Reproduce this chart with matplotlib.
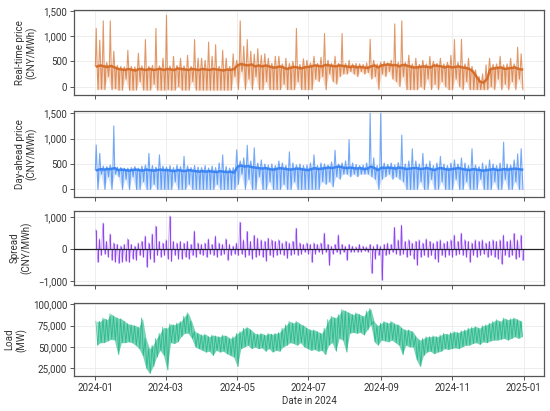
import numpy as np
import pandas as pd
import matplotlib
matplotlib.use("Agg")
import matplotlib.pyplot as plt
import matplotlib.dates as mdates
from matplotlib.ticker import FuncFormatter, FixedLocator

plt.rcParams['font.family'] = ['Roboto', 'DejaVu Sans']

# ---- data: 3-day periods through 2024 ----
period_start = "2024-01-01"
n_periods = 122

rt_hi = [1150, 920, 1300, 480, 1300, 700, 420, 400, 390, 720,
         400, 390, 660, 410, 930, 400, 420, 1150, 410, 560,
         1410, 410, 600, 420, 560, 410, 620, 400, 930, 560,
         560, 520, 880, 600, 830, 400, 720, 560, 400, 650,
         520, 1300, 800, 930, 700, 640, 750, 620, 650, 560,
         460, 600, 600, 450, 560, 460, 500, 1150, 440, 550,
         520, 470, 600, 460, 580, 1050, 520, 460, 600, 460,
         1050, 460, 520, 450, 460, 450, 440, 470, 935, 520,
         450, 480, 500, 470, 520, 1240, 480, 1300, 480, 620,
         450, 560, 440, 520, 450, 600, 500, 460, 560, 450,
         480, 620, 930, 480, 935, 450, 560, 400, 330, 200,
         250, 430, 560, 440, 450, 600, 430, 450, 560, 450,
         780, 650]
rt_mid = [400, 420, 400, 390, 410, 380,
          350, 340, 330, 350, 330, 320, 350, 340, 330, 350, 330, 340, 350, 330,
          350, 340, 330, 360, 350, 340, 330, 350, 340, 330, 350,
          340, 330, 350, 340, 330, 320, 340, 330, 350, 420,
          450, 430, 420, 440, 400, 420, 400, 420, 400, 380,
          380, 400, 380, 350, 370, 390, 380, 360, 380, 390,
          400, 420, 410, 400, 430, 420, 410, 400, 420, 410,
          400, 390, 400, 380, 390, 380, 370, 400, 420, 380,
          420, 430, 440, 420, 430, 400, 430, 420, 400, 380,
          380, 390, 400, 390, 380, 420, 410, 400, 380, 400,
          380, 390, 400, 380, 370, 350, 300, 200, 100, 80,
          150, 350, 360, 370, 380, 350, 360, 370, 380, 350, 340]
rt_lo = [-60, -50, -60, 200, -60, -40,
         -70, -70, 150, -70, -70, -70, 100, -70, -70, -70, 50, -70, -70, -70,
         -60, -70, -70, 0, -70, -70, -70, 100, -70, -70, -70,
         -70, -70, -70, -70, -70, -70, -70, -70, 200, -60,
         300, -60, 150, -60, 200, -60, -60, 100, -60, -60,
         -60, -60, 50, -60, -60, -60, 100, -60, -60, -60,
         -60, 150, 100, 200, -60, 250, 100, 50, 200, 250,
         250, 300, 250, 200, 300, 250, 280, 150, 200, -60,
         250, 200, 300, 150, 100, 0, 200, -60, -60, -60,
         -60, 0, -60, 150, -60, 50, -60, 100, 0, -60,
         -60, 150, 0, -60, 100, -60, -60, -60, -60, -60,
         -60, 0, -60, 150, -60, 50, -60, 100, -60, 150, -60]

da_hi = [875, 710, 460, 450, 480, 1250, 440, 430, 420, 420,
         430, 450, 420, 460, 480, 710, 470, 440, 680, 460,
         440, 470, 430, 480, 450, 650, 460, 430, 470, 440,
         430, 470, 420, 460, 430, 520, 680, 450, 420, 430,
         780, 560, 620, 870, 560, 820, 520, 580, 500, 480,
         500, 470, 560, 520, 470, 740, 520, 480, 500, 470,
         480, 520, 680, 470, 520, 500, 480, 540, 770, 500,
         520, 560, 980, 520, 490, 470, 480, 520, 1500, 620,
         470, 1500, 520, 490, 520, 480, 530, 1070, 500, 560,
         800, 560, 500, 710, 500, 560, 470, 520, 650, 500,
         470, 520, 580, 500, 620, 520, 470, 800, 480, 450,
         520, 470, 580, 500, 470, 520, 930, 500, 480, 580,
         700, 800]
da_mid = [380, 400, 390, 400, 400, 420,
          380, 390, 380, 370, 380, 390, 380, 370, 390, 380, 370, 380, 390, 380,
          380, 370, 360, 380, 370, 360, 380, 370, 360, 350, 360,
          350, 360, 350, 340, 360, 350, 340, 350, 330, 450,
          470, 450, 460, 440, 430, 420, 410, 420, 400, 390,
          400, 420, 410, 400, 390, 400, 410, 400, 390, 380,
          400, 420, 400, 410, 420, 430, 420, 440, 450, 430,
          420, 430, 420, 410, 420, 400, 410, 450, 420, 380,
          430, 420, 430, 420, 410, 430, 420, 400, 410, 420,
          420, 400, 410, 420, 400, 380, 410, 420, 400, 390,
          400, 410, 420, 400, 390, 380, 400, 390, 380, 370,
          380, 390, 400, 380, 390, 400, 390, 400, 410, 400, 390]
da_lo = [0, 300, 0, 250, 0, 300,
         250, 0, 200, 0, 250, 0, 0, 150, 0, 0, 100, 0, 0, 0,
         0, 0, 150, 0, 0, 0, 100, 0, 0, 0, 0,
         0, 0, 0, 100, 0, 0, 0, 0, 0, 100,
         300, 0, 200, 0, 0, 250, 0, 0, 150, 0,
         0, 0, 100, 0, 0, 150, 0, 0, 0, 0,
         0, 0, 0, 150, 100, 150, 50, 250, 200, 300,
         300, 250, 300, 250, 300, 300, 300, 250, 200, 0,
         200, 250, 300, 200, 250, 200, 150, 0, 0, 0,
         0, 150, 0, 0, 200, 0, 0, 150, 0, 0,
         0, 200, 0, 0, 150, 0, 0, 0, 200, 0,
         0, 0, 150, 0, 0, 200, 0, 0, 150, 0, 0]

sp_hi = [610, 330, 835, 250, 490, 200, 150, 100, 150, 330,
         150, 100, 200, 250, 420, 200, 490, 730, 250, 200,
         300, 1050, 250, 200, 250, 200, 250, 150, 580, 200,
         150, 200, 330, 150, 420, 200, 150, 330, 150, 100,
         200, 860, 300, 560, 250, 440, 350, 300, 250, 350,
         300, 250, 300, 200, 250, 200, 250, 660, 200, 150,
         200, 150, 200, 150, 200, 510, 150, 100, 150, 460,
         150, 100, 150, 100, 80, 150, 100, 80, 150, 100,
         150, 100, 150, 200, 150, 690, 300, 760, 250, 300,
         200, 250, 300, 200, 330, 250, 200, 250, 300, 200,
         250, 300, 450, 250, 510, 300, 250, 200, 300, 250,
         300, 200, 250, 300, 250, 300, 450, 250, 300, 500,
         300, 450]
sp_lo = [-410, -200, -150, -250, -350, -400, -450, -400, -380, -420,
         -300, -350, -200, -250, -560, -300, -420, -200, -250, -200,
         -300, -390, -200, -300, -310, -250, -300, -200, -250, -150,
         -200, -250, -150, -200, -250, -200, -150, -350, -200, -150,
         -200, -150, -250, -200, -300, -250, -200, -250, -360, -200,
         -250, -200, -150, -200, -290, -200, -150, -200, -150, -100,
         -150, -420, -150, -100, -150, -100, -510, -150, -100, -150,
         -100, -350, -100, -80, -100, -80, -50, -100, -765, -300,
         -200, -970, -200, -150, -100, -150, -200, -150, -250, -200,
         -300, -510, -250, -200, -250, -200, -300, -410, -200, -250,
         -200, -250, -200, -150, -200, -250, -410, -200, -250, -200,
         -150, -250, -200, -250, -300, -460, -200, -250, -200, -300,
         -250, -350]

ld_hi = [80000, 80000, 84000, 82000, 89000, 86000, 84000, 83000, 80000, 77000,
         76000, 75000, 73000, 84000, 60000, 48000, 52000, 60000, 66000, 73000,
         72000, 77000, 76000, 78000, 80000, 86000, 90000, 80000, 68000, 66000,
         64000, 65000, 62000, 64000, 63000, 62000, 64000, 63000, 60000, 62000,
         66000, 68000, 72000, 73000, 70000, 66000, 65000, 66000, 64000, 66000,
         65000, 66000, 67000, 72000, 76000, 80000, 78000, 80000, 77000, 75000,
         72000, 70000, 70000, 68000, 66000, 72000, 82000, 86000, 84000, 88000,
         94000, 92000, 90000, 88000, 90000, 88000, 86000, 92000, 95000, 80000,
         75000, 78000, 80000, 78000, 80000, 77000, 76000, 72000, 70000, 70000,
         68000, 62000, 58000, 60000, 62000, 62000, 63000, 62000, 64000, 66000,
         65000, 67000, 68000, 67000, 69000, 70000, 72000, 73000, 74000, 72000,
         75000, 76000, 78000, 80000, 82000, 80000, 84000, 82000, 83000, 84000,
         82000, 80000]
ld_lo = [52000, 55000, 55000, 57000, 59000, 58000, 41000, 55000, 55000, 56000,
         55000, 52000, 48000, 40000, 25000, 19000, 27000, 38000, 46000, 40000,
         23000, 55000, 54000, 56000, 62000, 66000, 66000, 60000, 50000, 48000,
         46000, 44000, 45000, 40000, 46000, 44000, 45000, 42000, 40000, 38000,
         27000, 48000, 50000, 52000, 48000, 50000, 48000, 49000, 45000, 48000,
         44000, 46000, 45000, 50000, 52000, 55000, 54000, 52000, 55000, 50000,
         48000, 46000, 47000, 45000, 46000, 41000, 52000, 55000, 45000, 60000,
         58000, 44000, 66000, 67000, 66000, 67000, 64000, 70000, 76000, 56000,
         52000, 58000, 57000, 56000, 58000, 55000, 52000, 41000, 52000, 50000,
         50000, 35000, 27000, 40000, 44000, 45000, 42000, 44000, 45000, 48000,
         47000, 48000, 49000, 48000, 50000, 52000, 52000, 54000, 55000, 53000,
         56000, 55000, 57000, 58000, 58000, 59000, 60000, 58000, 60000, 62000,
         60000, 62000]

# ---- build time series ----
starts = pd.date_range(period_start, periods=n_periods, freq="3D")
day = pd.Timedelta(days=1)

def zig4(hi, mid, lo):
    t, v = [], []
    for s, h, m, l in zip(starts, hi, mid, lo):
        t += [s, s + 0.75 * day, s + 1.5 * day, s + 2.25 * day]
        v += [m, h, m, l]
    return pd.to_datetime(t), np.array(v, float)

def zig2(hi, lo):
    t, v = [], []
    for s, h, l in zip(starts, hi, lo):
        t += [s + 0.5 * day, s + 2.0 * day]
        v += [h, l]
    return pd.to_datetime(t), np.array(v, float)

c_rt = "#D2621A"
c_da = "#2B7BF3"
c_sp = "#7F2AF0"
c_ld = "#0BB07B"

fig = plt.figure(figsize=(5.5, 4.11), dpi=100)
W, H = 550, 411
def rect(l, r, t, b):
    return [l / W, 1 - b / H, (r - l) / W, (b - t) / H]

ax1 = fig.add_axes(rect(74, 544, 10, 95))
ax2 = fig.add_axes(rect(74, 544, 111, 197))
ax3 = fig.add_axes(rect(74, 544, 211, 285))
ax4 = fig.add_axes(rect(74, 544, 303, 376))
axes = [ax1, ax2, ax3, ax4]

band_t = starts + 1.5 * day
for ax, hi, mid, lo, c in [(ax1, rt_hi, rt_mid, rt_lo, c_rt),
                           (ax2, da_hi, da_mid, da_lo, c_da)]:
    ax.fill_between(band_t, lo, mid, color=c, alpha=0.22, lw=0)
    ax.plot(band_t, mid, color=c, lw=1.8, alpha=0.85, solid_joinstyle="round")
    t, v = zig4(hi, mid, lo)
    ax.plot(t, v, color=c, lw=0.8, alpha=0.65)

t, v = zig2(sp_hi, sp_lo)
ax3.plot(t, v, color=c_sp, lw=0.6, alpha=0.45)
ax3.vlines(starts + 0.5 * day, 0, sp_hi, color=c_sp, lw=0.9, alpha=0.8)
ax3.vlines(starts + 2.0 * day, 0, sp_lo, color=c_sp, lw=0.9, alpha=0.8)
ax3.axhline(0, color="#222222", lw=0.9, zorder=5)

t, v = zig2(ld_hi, ld_lo)
ax4.fill_between(starts + 1.25 * day, ld_lo, ld_hi, color=c_ld, alpha=0.55, lw=0)
ax4.plot(t, v, color=c_ld, lw=0.6, alpha=0.7)

fmt = FuncFormatter(lambda x, p: f"{x:,.0f}".replace("-", "\u2212"))
ylims = [(-165, 1515), (-150, 1545), (-1130, 1200), (16000, 101500)]
yticks = [[0, 500, 1000, 1500], [0, 500, 1000, 1500], [-1000, 0, 1000],
          [25000, 50000, 75000, 100000]]
ylabels = ["Real-time price\n(CNY/MWh)", "Day-ahead price\n(CNY/MWh)",
           "Spread\n(CNY/MWh)", "Load\n(MW)"]

x0 = pd.Timestamp("2024-01-01")
x1 = pd.Timestamp("2024-12-31")
pad = (x1 - x0) * 0.05
xt = pd.date_range("2024-01-01", "2025-01-01", freq="2MS")

for ax, yl, ytk, lab in zip(axes, ylims, yticks, ylabels):
    ax.set_xlim(x0 - pad, x1 + pad)
    ax.set_ylim(*yl)
    ax.yaxis.set_major_locator(FixedLocator(ytk))
    ax.yaxis.set_major_formatter(fmt)
    ax.set_xticks(xt)
    ax.xaxis.set_major_formatter(mdates.DateFormatter("%Y-%m"))
    ax.grid(True, color="#EBEBEB", lw=0.6)
    ax.set_axisbelow(True)
    for sp in ax.spines.values():
        sp.set_color("#555555")
        sp.set_linewidth(0.9)
    ax.tick_params(axis="both", colors="#555555", length=3, width=0.7,
                   labelsize=7, labelcolor="#333333", pad=2)
    ax.set_ylabel(lab, fontsize=7, color="#333333", labelpad=4, linespacing=1.1)
    if ax is not ax4:
        ax.tick_params(axis="x", labelbottom=False)

ax4.set_xlabel("Date in 2024", fontsize=7, color="#333333", labelpad=2)
fig.align_ylabels(axes)

fig.savefig("out.png", dpi=100)
